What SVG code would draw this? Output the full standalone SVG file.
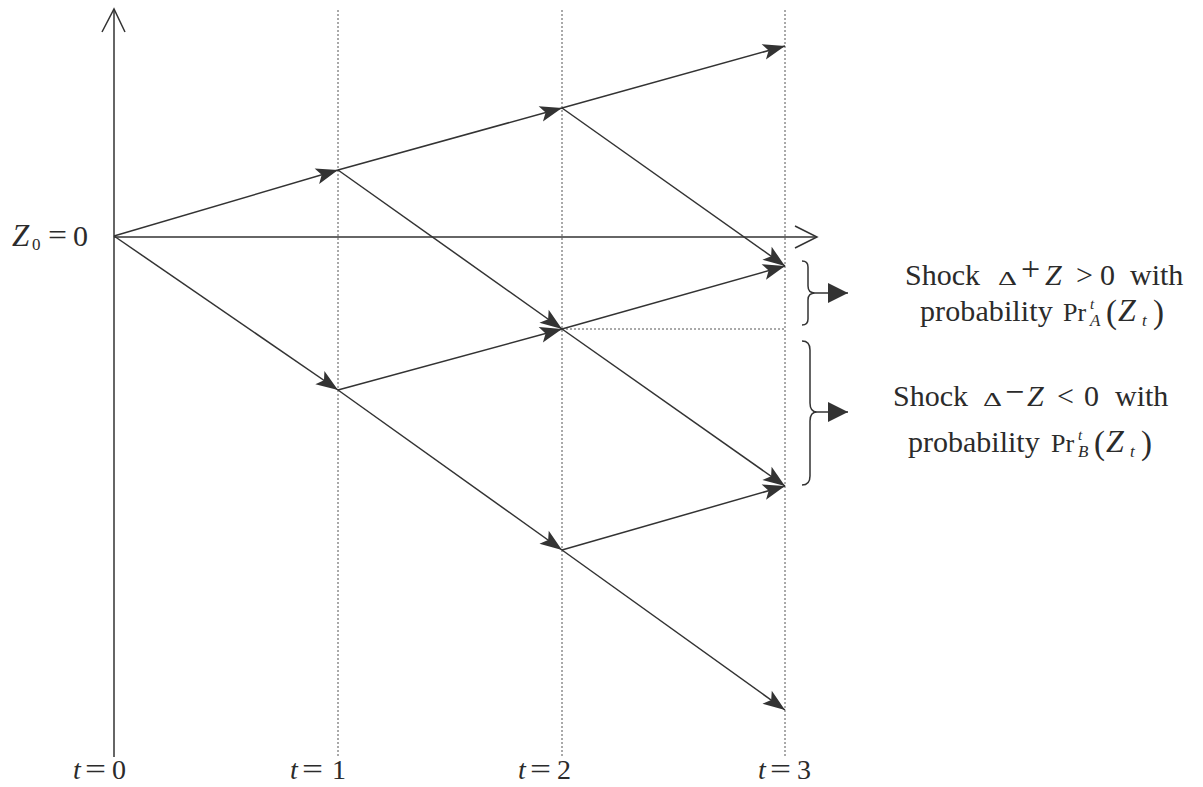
<svg xmlns="http://www.w3.org/2000/svg" width="1203" height="787" viewBox="0 0 1203 787">
<style>
.ln{stroke:#333;stroke-width:1.5;fill:none}
.dot{stroke:#555;stroke-width:1;stroke-dasharray:2 2;fill:none}
.ar{stroke:#333;stroke-width:1.5;fill:none;marker-end:url(#ah)}
.tx{font-family:"Liberation Serif","Times New Roman",serif;fill:#2b2b2b;font-size:30px}
.it{font-style:italic}
</style>
<defs>
<marker id="ah" markerUnits="userSpaceOnUse" markerWidth="30" markerHeight="24" refX="22" refY="0" viewBox="0 -12 30 24" orient="auto" overflow="visible">
<path d="M0,-8 L22,0 L0,8 L5,0 Z" fill="#333"/>
</marker>
<marker id="ah2" markerUnits="userSpaceOnUse" markerWidth="30" markerHeight="24" refX="20" refY="0" viewBox="0 -12 30 24" orient="auto" overflow="visible">
<path d="M0,-10 L20,0 L0,10 Z" fill="#333"/>
</marker>
</defs>
<g id="grid">
<line class="dot" x1="338" y1="10" x2="338" y2="757"/>
<line class="dot" x1="562" y1="10" x2="562" y2="757"/>
<line class="dot" x1="785" y1="10" x2="785" y2="757"/>
<line class="dot" x1="562" y1="329" x2="785" y2="329"/>
</g>
<g id="axes">
<line class="ln" x1="114" y1="757" x2="114" y2="9"/>
<polyline class="ln" points="102,32 114,9 125,32"/>
<line class="ln" x1="114" y1="237" x2="817" y2="237"/>
<polyline class="ln" points="795,226 817,237 795,248"/>
</g>
<g id="connectors">
<line class="ar" x1="114" y1="236" x2="338" y2="170"/>
<line class="ar" x1="114" y1="236" x2="338" y2="390"/>
<line class="ar" x1="338" y1="170" x2="562" y2="108"/>
<line class="ar" x1="338" y1="170" x2="562" y2="329"/>
<line class="ar" x1="338" y1="390" x2="562" y2="329"/>
<line class="ar" x1="338" y1="390" x2="562" y2="550"/>
<line class="ar" x1="562" y1="108" x2="785" y2="46"/>
<line class="ar" x1="562" y1="108" x2="785" y2="266"/>
<line class="ar" x1="562" y1="329" x2="785" y2="266"/>
<line class="ar" x1="562" y1="329" x2="785" y2="486"/>
<line class="ar" x1="562" y1="550" x2="785" y2="486"/>
<line class="ar" x1="562" y1="550" x2="785" y2="710"/>
</g>
<g id="braceA">
<path class="ln" stroke-width="2" d="M802,261 Q808,261 808,267 L808,286 Q808,293 815,293 Q808,293 808,300 L808,319 Q808,325 802,325"/>
<line class="ln" x1="815" y1="293" x2="848" y2="293" marker-end="url(#ah2)"/>
</g>
<g id="braceB">
<path class="ln" stroke-width="2" d="M802,341 Q810,341 810,350 L810,403 Q810,412 817,412 Q810,412 810,421 L810,476 Q810,485 802,485"/>
<line class="ln" x1="817" y1="412" x2="848" y2="412" marker-end="url(#ah2)"/>
</g>
<g id="label-z0">
<text class="tx"><tspan class="it" x="12" y="246" style="font-size:31px">Z</tspan><tspan x="32" y="250" style="font-size:17px">0</tspan><tspan x="73" y="246">0</tspan></text>
<text class="tx" x="48" y="245" textLength="19" lengthAdjust="spacingAndGlyphs">=</text>
</g>
<g id="label-t0"><text class="tx" style="font-size:28px"><tspan class="it" x="73" y="779">t</tspan><tspan x="112" y="779">0</tspan></text><text class="tx" x="85" y="779" style="font-size:30px" textLength="21" lengthAdjust="spacingAndGlyphs">=</text></g>
<g id="label-t1"><text class="tx" style="font-size:28px"><tspan class="it" x="290" y="779">t</tspan><tspan x="332" y="779">1</tspan></text><text class="tx" x="302" y="779" style="font-size:30px" textLength="21" lengthAdjust="spacingAndGlyphs">=</text></g>
<g id="label-t2"><text class="tx" style="font-size:28px"><tspan class="it" x="518" y="779">t</tspan><tspan x="557" y="779">2</tspan></text><text class="tx" x="530" y="779" style="font-size:30px" textLength="21" lengthAdjust="spacingAndGlyphs">=</text></g>
<g id="label-t3"><text class="tx" style="font-size:28px"><tspan class="it" x="758" y="779">t</tspan><tspan x="797" y="779">3</tspan></text><text class="tx" x="770" y="779" style="font-size:30px" textLength="21" lengthAdjust="spacingAndGlyphs">=</text></g>
<g id="label-A">
<text class="tx"><tspan x="905" y="285">Shock</tspan><tspan x="1021" y="280" style="font-size:34px">+</tspan><tspan class="it" x="1045" y="285">Z</tspan><tspan x="1076" y="285">&gt;</tspan><tspan x="1100" y="285">0</tspan><tspan x="1130" y="285">with</tspan></text>
<text class="tx" x="998" y="285" style="font-size:19px" textLength="19" lengthAdjust="spacingAndGlyphs">Δ</text>
<text class="tx"><tspan x="920" y="321" letter-spacing="0.1">probability</tspan><tspan x="1063" y="321" style="font-size:26px">Pr</tspan><tspan class="it" x="1090" y="309" style="font-size:15px">t</tspan><tspan class="it" x="1090" y="326" style="font-size:17px">A</tspan><tspan x="1106" y="323" style="font-size:33px">(</tspan><tspan class="it" x="1118" y="321" style="font-size:32px">Z</tspan><tspan class="it" x="1142" y="326" style="font-size:17px">t</tspan><tspan x="1153" y="323" style="font-size:33px">)</tspan></text>
</g>
<g id="label-B">
<text class="tx"><tspan x="893" y="406">Shock</tspan><tspan x="1005" y="403" style="font-size:34px">−</tspan><tspan class="it" x="1027" y="406">Z</tspan><tspan x="1057" y="406">&lt;</tspan><tspan x="1084" y="406">0</tspan><tspan x="1115" y="406">with</tspan></text>
<text class="tx" x="983" y="406" style="font-size:19px" textLength="19" lengthAdjust="spacingAndGlyphs">Δ</text>
<text class="tx"><tspan x="908" y="452">probability</tspan><tspan x="1051" y="452" style="font-size:26px">Pr</tspan><tspan class="it" x="1078" y="440" style="font-size:15px">t</tspan><tspan class="it" x="1078" y="457" style="font-size:17px">B</tspan><tspan x="1094" y="454" style="font-size:33px">(</tspan><tspan class="it" x="1106" y="452" style="font-size:32px">Z</tspan><tspan class="it" x="1130" y="457" style="font-size:17px">t</tspan><tspan x="1141" y="454" style="font-size:33px">)</tspan></text>
</g>
</svg>
